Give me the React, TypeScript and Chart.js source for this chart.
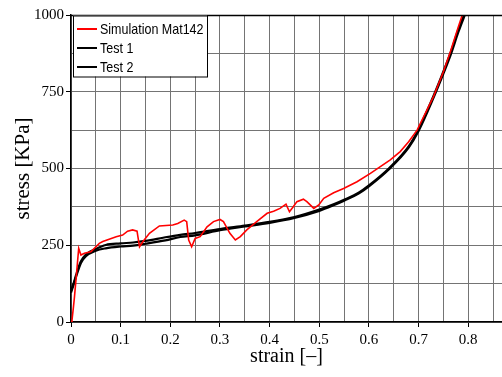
import { useEffect, useRef } from "react";
import { Chart, registerables } from "chart.js";

Chart.register(...registerables);

// ---- data ----
const simStrain = [0, 0.002, 0.005, 0.007, 0.01, 0.0155, 0.02, 0.027, 0.04, 0.057, 0.064, 0.091, 0.104, 0.114, 0.124, 0.133, 0.138, 0.145, 0.158, 0.178, 0.205, 0.215, 0.228, 0.233, 0.237, 0.243, 0.25, 0.26, 0.274, 0.287, 0.3, 0.307, 0.32, 0.331, 0.341, 0.354, 0.374, 0.395, 0.408, 0.421, 0.433, 0.44, 0.448, 0.455, 0.468, 0.475, 0.489, 0.499, 0.509, 0.529, 0.549, 0.576, 0.603, 0.623, 0.643, 0.663, 0.68, 0.697, 0.73, 0.75, 0.764, 0.778, 0.79];
const simStress = [0, 6, 50, 82, 137, 240, 218, 224, 229, 256, 262, 278, 283, 296, 300, 296, 245, 262, 289, 313, 316, 321, 332, 327, 267, 245, 272, 278, 310, 327, 334, 327, 289, 267, 278, 300, 327, 354, 361, 370, 384, 359, 376, 392, 400, 392, 370, 381, 403, 421, 435, 457, 484, 506, 528, 555, 587, 625, 734, 815, 880, 951, 1010];

const testStrain = [0, 0.005, 0.01, 0.02, 0.03, 0.05, 0.07, 0.1, 0.125, 0.15, 0.19, 0.22, 0.25, 0.3, 0.35, 0.4, 0.45, 0.5, 0.53, 0.55, 0.58, 0.6, 0.64, 0.68, 0.7, 0.73, 0.75, 0.765, 0.78, 0.795];
const test1Stress = [102, 125, 152, 198, 220, 238, 251, 256, 259, 264, 276, 284, 290, 303, 314, 326, 342, 366, 384, 398, 422, 445, 500, 572, 628, 736, 816, 880, 952, 1015];
const test2Stress = [96, 120, 146, 192, 214, 232, 240, 246, 249, 255, 266, 277, 282, 299, 311, 323, 339, 362, 381, 395, 419, 442, 497, 568, 622, 730, 809, 872, 944, 1008];

const xTicks = [0, 0.05, 0.1, 0.15, 0.2, 0.25, 0.3, 0.35, 0.4, 0.45, 0.5, 0.55, 0.6, 0.65, 0.7, 0.75, 0.8, 0.85];
const xLabels = ["0", "", "0.1", "", "0.2", "", "0.3", "", "0.4", "", "0.5", "", "0.6", "", "0.7", "", "0.8", ""];
const yTicks = [0, 125, 250, 375, 500, 625, 750, 875, 1000];
const yLabels = ["0", "", "250", "", "500", "", "750", "", "1000"];

const seriesNames = ["Simulation Mat142", "Test 1", "Test 2"];
const seriesColors = ["#ff0000", "#000000", "#000000"];

const toPoints = (xs: number[], ys: number[]) => xs.map((x, i) => ({ x, y: ys[i] }));

const frameAndLegend = {
  id: "frameAndLegend",
  afterDatasetsDraw(chart: any) {
    const { ctx, chartArea } = chart;
    ctx.save();
    // top frame line
    ctx.strokeStyle = "#000";
    ctx.lineWidth = 1.5;
    ctx.beginPath();
    ctx.moveTo(chartArea.left, chartArea.top + 0.5);
    ctx.lineTo(chartArea.right, chartArea.top + 0.5);
    ctx.stroke();

    // legend box
    const bx = 73, by = 15.5, bw = 134, bh = 61;
    ctx.fillStyle = "#fff";
    ctx.fillRect(bx, by, bw, bh);
    ctx.lineWidth = 1;
    ctx.strokeStyle = "#000";
    ctx.strokeRect(bx + 0.5, by + 0.5, bw, bh);
    const rows = [29, 48, 67];
    seriesNames.forEach((name, i) => {
      const y = rows[i];
      ctx.strokeStyle = seriesColors[i];
      ctx.lineWidth = 2;
      ctx.beginPath();
      ctx.moveTo(77, y);
      ctx.lineTo(97, y);
      ctx.stroke();
      ctx.save();
      ctx.translate(100, y);
      ctx.scale(1, 1.2);
      ctx.fillStyle = "#000";
      ctx.font = "12.5px 'Liberation Sans', Arial, sans-serif";
      ctx.textBaseline = "middle";
      ctx.textAlign = "left";
      ctx.fillText(name, 0, 0.5);
      ctx.restore();
    });
    ctx.restore();
  },
};

export default function App() {
  const ref = useRef<HTMLCanvasElement | null>(null);

  useEffect(() => {
    if (!ref.current) return;
    const serif = "'Liberation Serif', 'Times New Roman', serif";
    const chart = new Chart(ref.current, {
      type: "line",
      data: {
        datasets: [
          {
            label: seriesNames[0],
            data: toPoints(simStrain, simStress),
            borderColor: seriesColors[0],
            borderWidth: 1.6,
            pointRadius: 0,
            tension: 0,
            order: 0,
          },
          {
            label: seriesNames[1],
            data: toPoints(testStrain, test1Stress),
            borderColor: seriesColors[1],
            borderWidth: 2.2,
            pointRadius: 0,
            cubicInterpolationMode: "monotone",
            order: 1,
          },
          {
            label: seriesNames[2],
            data: toPoints(testStrain, test2Stress),
            borderColor: seriesColors[2],
            borderWidth: 2.2,
            pointRadius: 0,
            cubicInterpolationMode: "monotone",
            order: 2,
          },
        ],
      },
      options: {
        animation: false,
        responsive: false,
        layout: { padding: { top: 15, right: 0, left: 0, bottom: 0 } },
        plugins: { legend: { display: false }, tooltip: { enabled: false } },
        scales: {
          x: {
            type: "linear",
            min: 0,
            max: 0.868,
            afterBuildTicks: (scale: any) => {
              scale.ticks = xTicks.map((v) => ({ value: v }));
            },
            afterFit: (scale: any) => {
              scale.height = 55;
            },
            border: { color: "#000", width: 1.5 },
            grid: {
              color: "#747474",
              lineWidth: 1,
              tickLength: 5,
              tickColor: (c: any) => (c.index % 2 === 0 ? "#000" : "rgba(0,0,0,0)"),
            },
            ticks: {
              autoSkip: false,
              maxRotation: 0,
              padding: 4,
              color: "#000",
              font: { family: serif, size: 15 },
              callback: (_v: any, i: number) => xLabels[i] ?? "",
            },
            title: {
              display: true,
              text: "strain [–]",
              color: "#000",
              font: { family: serif, size: 20 },
              padding: { top: 0, bottom: 8 },
            },
          },
          y: {
            type: "linear",
            min: 0,
            max: 1000,
            afterBuildTicks: (scale: any) => {
              scale.ticks = yTicks.map((v) => ({ value: v }));
            },
            afterFit: (scale: any) => {
              scale.width = 71;
            },
            border: { color: "#000", width: 1.5 },
            grid: {
              color: "#747474",
              lineWidth: 1,
              tickLength: 5,
              tickColor: (c: any) => (c.index % 2 === 0 ? "#000" : "rgba(0,0,0,0)"),
            },
            ticks: {
              autoSkip: false,
              padding: 2,
              color: "#000",
              font: { family: serif, size: 15 },
              callback: (_v: any, i: number) => yLabels[i] ?? "",
            },
            title: {
              display: true,
              text: "stress [KPa]",
              color: "#000",
              font: { family: serif, size: 21 },
              padding: { top: 11, bottom: 0 },
            },
          },
        },
      },
      plugins: [frameAndLegend],
    });
    return () => chart.destroy();
  }, []);

  return (
    <canvas
      ref={ref}
      width={502}
      height={377}
      style={{ position: "absolute", left: 0, top: 0, width: 502, height: 377 }}
    />
  );
}
